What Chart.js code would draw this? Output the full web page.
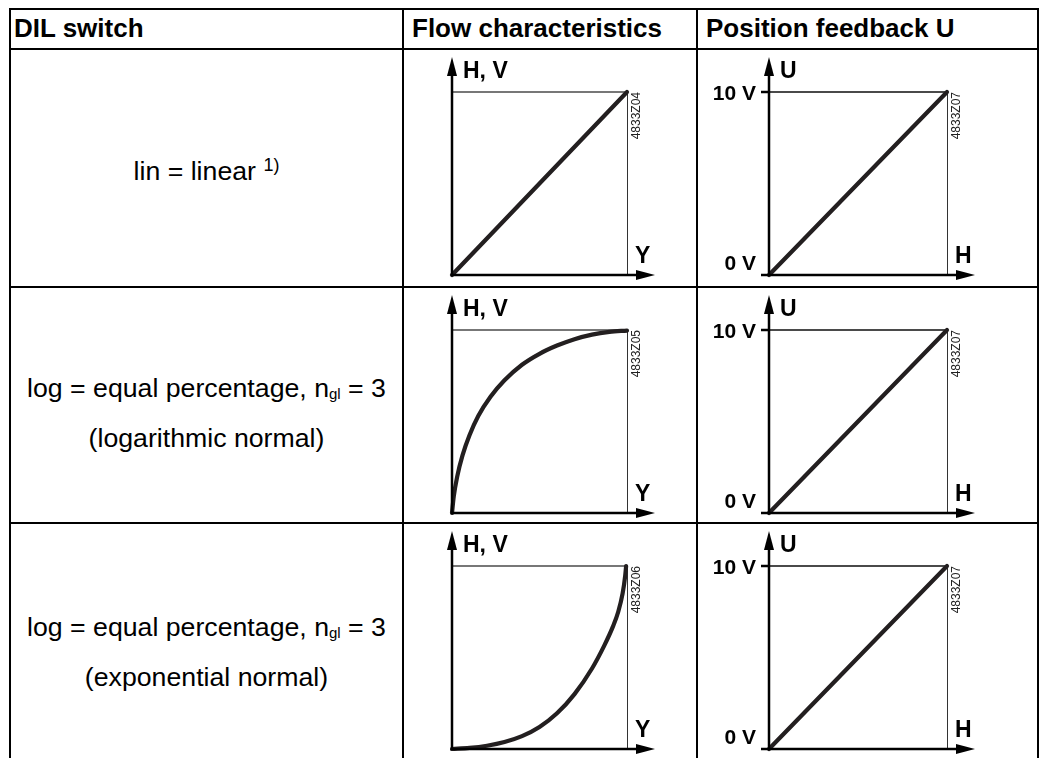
<!DOCTYPE html>
<html>
<head>
<meta charset="utf-8">
<script src="https://cdn.jsdelivr.net/npm/chart.js@4"></script>
<style>
    body { margin: 0; background: #fff; width: 1044px; height: 758px; overflow: hidden; position: relative;
           font-family: Arial, "Liberation Sans", sans-serif; color: #000; }
    .ln { position: absolute; background: #000; }
    .hd { position: absolute; top: 9px; height: 38px; line-height: 38px; font-weight: bold; font-size: 26px; white-space: nowrap; }
    .tx { position: absolute; left: 11px; width: 391px; text-align: center; font-size: 26.7px; line-height: 44px; white-space: nowrap; }
    .tx sub { font-size: 15px; vertical-align: -2px; }
    .tx sup { font-size: 18px; vertical-align: 9px; }
    canvas { position: absolute; }
</style>
</head>
<body>

<!-- table grid -->
<div class="ln" style="left:9px;top:8px;width:1030px;height:2px"></div>
<div class="ln" style="left:9px;top:48px;width:1030px;height:2px"></div>
<div class="ln" style="left:9px;top:286px;width:1030px;height:2px"></div>
<div class="ln" style="left:9px;top:522px;width:1030px;height:2px"></div>
<div class="ln" style="left:9px;top:8px;width:2px;height:750px"></div>
<div class="ln" style="left:402px;top:8px;width:2px;height:750px"></div>
<div class="ln" style="left:696px;top:8px;width:2px;height:750px"></div>
<div class="ln" style="left:1037px;top:8px;width:2px;height:750px"></div>

<div class="hd" style="left:14px">DIL switch</div>
<div class="hd" style="left:412px">Flow characteristics</div>
<div class="hd" style="left:706px">Position feedback U</div>

<div class="tx" style="top:143px">lin = linear <sup>1)</sup></div>
<div class="tx" style="top:366px">log = equal percentage, n<sub>gl</sub> = 3<br>(logarithmic normal)</div>
<div class="tx" style="top:605px">log = equal percentage, n<sub>gl</sub> = 3<br>(exponential normal)</div>

<script>
// flow curves, stroke (0..1) against flow (0..1)
const linX = [0, 1];
const linY = [0, 1];
const logX = [0, 0.01, 0.03, 0.06, 0.1, 0.15, 0.22, 0.3, 0.4, 0.5, 0.6, 0.7, 0.8, 0.9, 1];
const logY = [0, 0.09, 0.2, 0.315, 0.425, 0.53, 0.635, 0.725, 0.81, 0.87, 0.915, 0.95, 0.975, 0.99, 0.997];
const expX = [0, 0.1, 0.2, 0.3, 0.4, 0.5, 0.6, 0.7, 0.8, 0.87, 0.92, 0.95, 0.975, 0.99, 0.995];
const expY = [0, 0.006, 0.018, 0.038, 0.07, 0.12, 0.195, 0.3, 0.44, 0.565, 0.67, 0.75, 0.85, 0.95, 1];

// position feedback, stroke H (0..1) against voltage U
const feedbackH = [0, 1];
const feedbackU = [0, 10];
const voltTicks = [0, 10];
const voltLabels = ['0 V', '10 V'];

const flowCodes = ['4833Z04', '4833Z05', '4833Z06'];
const feedbackCode = '4833Z07';

const rowTops = [50, 288, 524];
const ink = '#231f20';

const toPoints = (xs, ys) => xs.map((x, i) => ({ x: x, y: ys[i] }));

function arrow(ctx, x, y, dx, dy) {
    // tip at x,y pointing along dx,dy
    const len = 19, half = 5;
    const px = -dy, py = dx;
    ctx.beginPath();
    ctx.moveTo(x, y);
    ctx.lineTo(x - dx * len + px * half, y - dy * len + py * half);
    ctx.lineTo(x - dx * len - px * half, y - dy * len - py * half);
    ctx.closePath();
    ctx.fill();
}

const diagramPlugin = {
    id: 'diagram',
    beforeDatasetsDraw(chart, args, opts) {
        const ctx = chart.ctx;
        const xs = chart.scales.x, ys = chart.scales.y;
        const x0 = xs.getPixelForValue(0), x1 = xs.getPixelForValue(1);
        const y0 = ys.getPixelForValue(0), y1 = ys.getPixelForValue(ys.max);
        ctx.save();
        ctx.strokeStyle = '#4a4a4a';
        ctx.lineWidth = opts.volts ? 2 : 1.5;
        ctx.beginPath();
        ctx.moveTo(x0, y1);
        ctx.lineTo(x1, y1);
        ctx.stroke();
        ctx.strokeStyle = '#333';
        ctx.lineWidth = 1;
        ctx.beginPath();
        ctx.moveTo(x1 + 0.5, y1);
        ctx.lineTo(x1 + 0.5, y0);
        ctx.stroke();
        ctx.restore();
    },
    afterDatasetsDraw(chart, args, opts) {
        const ctx = chart.ctx;
        const xs = chart.scales.x, ys = chart.scales.y;
        const x0 = xs.getPixelForValue(0), x1 = xs.getPixelForValue(1);
        const y0 = ys.getPixelForValue(0), y1 = ys.getPixelForValue(ys.max);
        const tipY = y1 - 35, tipX = x1 + 28;
        ctx.save();
        ctx.strokeStyle = '#000';
        ctx.fillStyle = '#000';
        ctx.lineWidth = 2.5;
        ctx.beginPath();
        ctx.moveTo(x0, tipY + 10);
        ctx.lineTo(x0, y0);
        ctx.lineTo(tipX - 10, y0);
        ctx.stroke();
        arrow(ctx, x0, tipY, 0, -1);
        arrow(ctx, tipX, y0, 1, 0);

        if (opts.volts) {
            ctx.lineWidth = 2.5;
            ctx.font = 'bold 21px Arial, "Liberation Sans", sans-serif';
            ctx.textAlign = 'right';
            ctx.textBaseline = 'alphabetic';
            voltTicks.forEach((v, i) => {
                const y = ys.getPixelForValue(v);
                ctx.beginPath();
                ctx.moveTo(x0 - 8, y);
                ctx.lineTo(x0, y);
                ctx.stroke();
                ctx.fillText(voltLabels[i], x0 - 13, v === 0 ? y - 5 : y + 8);
            });
        }

        ctx.font = 'bold 23px Arial, "Liberation Sans", sans-serif';
        ctx.textAlign = 'left';
        ctx.textBaseline = 'alphabetic';
        ctx.fillText(opts.yLabel, x0 + 11, y1 - 14);
        ctx.fillText(opts.xLabel, x1 + 8, y0 - 12);

        ctx.translate(x1 + 4, y1);
        ctx.rotate(-Math.PI / 2);
        ctx.font = '12px Arial, "Liberation Sans", sans-serif';
        ctx.fillStyle = '#222';
        ctx.textAlign = 'right';
        ctx.textBaseline = 'top';
        ctx.fillText(opts.code, 0, 0);
        ctx.restore();
    }
};

function makeChart(left, top, width, pad, points, yMax, diagram) {
    const canvas = document.createElement('canvas');
    canvas.width = width;
    canvas.height = 236;
    canvas.style.left = left + 'px';
    canvas.style.top = top + 'px';
    document.body.appendChild(canvas);

    return new Chart(canvas.getContext('2d'), {
        type: 'scatter',
        data: {
            datasets: [{
                data: points,
                showLine: true,
                borderColor: ink,
                borderWidth: 4.2,
                pointRadius: 0,
                tension: 0.4,
                cubicInterpolationMode: 'monotone',
                borderCapStyle: 'round',
                clip: false
            }]
        },
        options: {
            responsive: false,
            animation: false,
            events: [],
            layout: { padding: { left: pad[0], right: pad[1], top: 42, bottom: 11 } },
            plugins: {
                legend: { display: false },
                tooltip: { enabled: false },
                diagram: diagram
            },
            scales: {
                x: { type: 'linear', min: 0, max: 1, display: false },
                y: { type: 'linear', min: 0, max: yMax, display: false }
            }
        },
        plugins: [diagramPlugin]
    });
}

const flowCurves = [toPoints(linX, linY), toPoints(logX, logY), toPoints(expX, expY)];

rowTops.forEach((top, i) => {
    makeChart(404, top, 292, [48, 69], flowCurves[i], 1,
        { yLabel: 'H, V', xLabel: 'Y', code: flowCodes[i], volts: false });
    makeChart(698, top, 339, [71, 90], toPoints(feedbackH, feedbackU), 10,
        { yLabel: 'U', xLabel: 'H', code: feedbackCode, volts: true });
});
</script>
</body>
</html>
